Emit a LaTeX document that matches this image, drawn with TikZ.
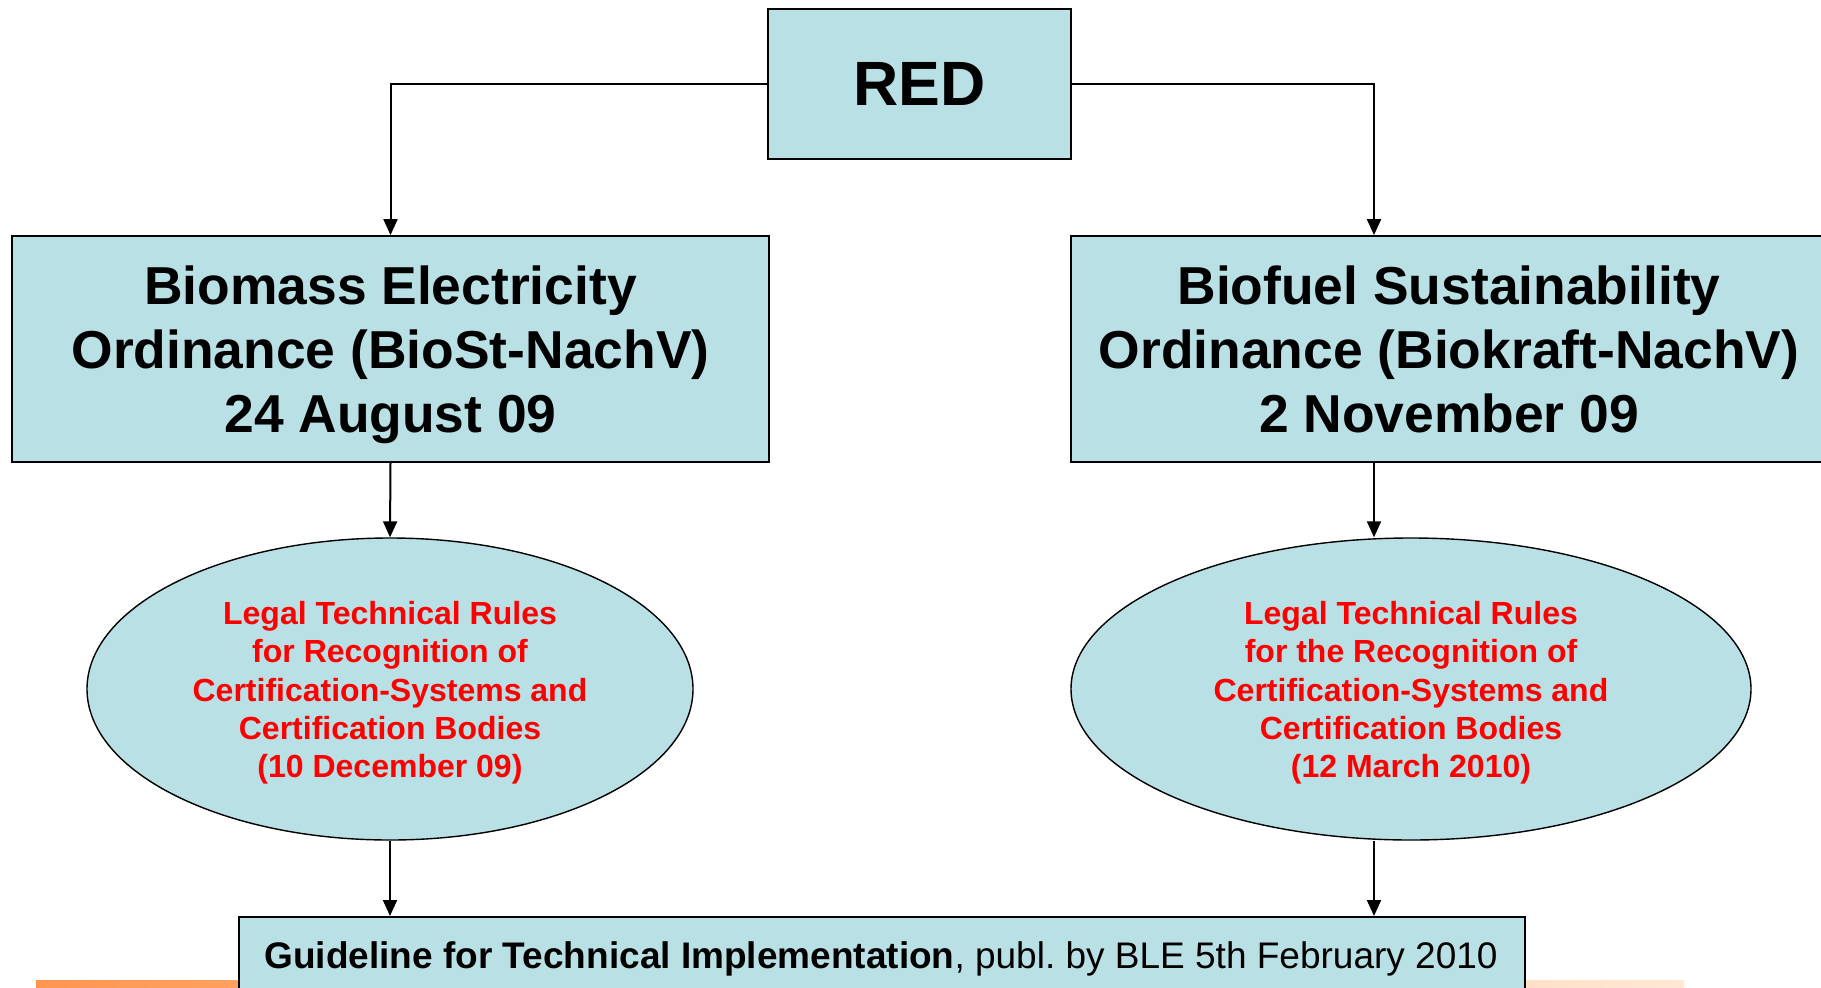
\documentclass[tikz,border=0pt]{standalone}
\usepackage{fontspec}
\setmainfont{Liberation Sans}
\usetikzlibrary{arrows.meta,shapes.geometric}
\definecolor{boxfill}{RGB}{185,224,228}
\definecolor{barorange}{RGB}{255,150,80}
\definecolor{barpeach}{RGB}{255,232,212}
\tikzset{
  box/.style={draw=black, line width=1.8pt, fill=boxfill, inner sep=0pt, align=center, text=black},
  oval/.style={ellipse, draw=black, line width=1.4pt, fill=boxfill, inner sep=0pt, align=center, text=red},
  conn/.style={line width=2pt, -{Triangle[length=16pt,width=14pt]}},
}
\begin{document}
\frenchspacing
\begin{tikzpicture}[x=1pt,y=-1pt]
\useasboundingbox (0,0) rectangle (1821,988);
\fill[white] (0,0) rectangle (1821,988);
% bottom bar
\shade[left color=barorange, right color=barpeach] (36,980) rectangle (1684,988);
% nodes
\node[box, minimum width=303pt, minimum height=150pt, font=\fontsize{62.6}{70}\selectfont\bfseries] (RED) at (919.5,84) {RED};
\node[box, minimum width=757pt, minimum height=226pt, font=\fontsize{53.4}{64}\selectfont\bfseries] (L) at (390.5,349)
  {Biomass Electricity\\Ordinance (BioSt-NachV)\\\smash{24 August 09}};
\node[box, minimum width=756pt, minimum height=226pt, font=\fontsize{53.4}{64}\selectfont\bfseries] (R) at (1449,349)
  {Biofuel Sustainability\\Ordinance (Biokraft-NachV)\\2 November 09};
\node[oval, minimum width=606pt, minimum height=302pt, font=\fontsize{32}{38.3}\selectfont\bfseries] (LE) at (390,689)
  {\rule{0pt}{31pt}Legal Technical Rules\\for Recognition of\\Certification-Systems and\\Certification Bodies\\(10 December 09)};
\node[oval, minimum width=680pt, minimum height=302pt, font=\fontsize{32}{38.3}\selectfont\bfseries] (RE) at (1411,689)
  {\rule{0pt}{31pt}Legal Technical Rules\\for the Recognition of\\Certification-Systems and\\Certification Bodies\\(12 March 2010)};
\node[box, minimum width=1286pt, minimum height=84pt, anchor=north] (B) at (882,916) {};
\node[font=\fontsize{37}{44}\selectfont, anchor=base, inner sep=0pt] (BT) at (881,968)
  {\textbf{Guideline for Technical Implementation}, publ. by BLE 5th February 2010};
% connectors
\coordinate (rx) at (1374,0);
\draw[conn] (RED.west) -| (L.north);
\draw[conn] (RED.east) -| (rx |- R.north);
\draw[conn] (L.south) -- (LE.north);
\draw[conn] (rx |- R.south) -- (rx |- RE.north);
\draw[conn] (LE.south) -- (LE.south |- B.north);
\draw[conn] (rx |- RE.south) -- (rx |- B.north);
\end{tikzpicture}
\end{document}
